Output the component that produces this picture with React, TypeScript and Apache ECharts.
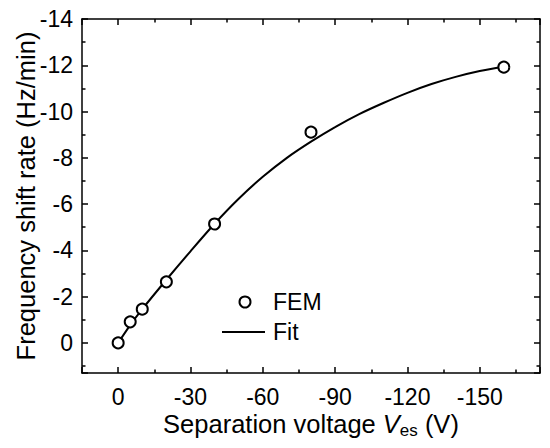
import React, { useEffect, useRef } from "react";
import * as echarts from "echarts";

const femVoltages = [0, -5, -10, -20, -40, -80, -160];
const femRates = [0, -0.91, -1.46, -2.64, -5.14, -9.11, -11.92];

const fitVoltages = [0, -5, -10, -20, -30, -40, -50, -60, -70, -80, -90, -100, -110, -120, -130, -140, -150, -160];
const fitRates = [0, -0.77, -1.46, -2.73, -3.96, -5.15, -6.23, -7.18, -8.0, -8.7, -9.33, -9.89, -10.37, -10.81, -11.19, -11.5, -11.75, -11.95];

const xRange = [-175, 15];
const yRange = [-14, 1.3];
const legendNames = ["FEM", "Fit"];

const FONT = "'Liberation Sans', Arial, sans-serif";

export default function App() {
  const ref = useRef<HTMLDivElement>(null);

  useEffect(() => {
    if (!ref.current) return;
    const chart = echarts.init(ref.current, null, { renderer: "svg" });

    const axisLine = { show: true, onZero: false, lineStyle: { color: "#000", width: 1.5 } };
    const axisTick = { show: true, inside: true, length: 6, lineStyle: { color: "#000", width: 1.5 } };
    const minorTick = { show: true, splitNumber: 2, length: 3.5, lineStyle: { color: "#000", width: 1.5 } };

    const xBase = {
      type: "value",
      min: xRange[0],
      max: xRange[1],
      splitNumber: 6,
      inverse: true,
      axisLine,
      axisTick,
      minorTick,
      splitLine: { show: false },
      minorSplitLine: { show: false },
    };
    const yBase = {
      type: "value",
      min: yRange[0],
      max: yRange[1],
      interval: 2,
      inverse: true,
      axisLine,
      axisTick,
      minorTick,
      splitLine: { show: false },
      minorSplitLine: { show: false },
    };

    const fitData = fitVoltages.map((v, i) => [v, fitRates[i]]);
    const femData = femVoltages.map((v, i) => [v, femRates[i]]);

    chart.setOption({
      animation: false,
      backgroundColor: "#fff",
      textStyle: { fontFamily: FONT, color: "#000" },
      grid: { left: 82, top: 19, right: 10, bottom: 75, containLabel: false, outerBoundsMode: "none" },
      graphic: [
        {
          type: "circle",
          shape: { cx: 245, cy: 302, r: 5.5 },
          style: { fill: "#fff", stroke: "#000", lineWidth: 2 },
          z: 10,
        },
        {
          type: "text",
          x: 273,
          y: 302,
          style: { text: legendNames[0], font: `23px ${FONT}`, fill: "#000", textVerticalAlign: "middle", verticalAlign: "middle" },
          z: 10,
        },
        {
          type: "line",
          shape: { x1: 222, y1: 332, x2: 265, y2: 332 },
          style: { stroke: "#000", lineWidth: 2 },
          z: 10,
        },
        {
          type: "text",
          x: 273,
          y: 332,
          style: { text: legendNames[1], font: `23px ${FONT}`, fill: "#000", textVerticalAlign: "middle", verticalAlign: "middle" },
          z: 10,
        },
      ],
      xAxis: [
        {
          ...xBase,
          position: "bottom",
          axisLabel: {
            show: true,
            margin: 12,
            fontSize: 23,
            color: "#000",
            fontFamily: FONT,
            formatter: (v: number) => (Math.abs(v % 30) < 1e-6 ? String(v) : ""),
          },
          name: "Separation voltage {i|V}{sub|es}{n| (V)}",
          nameLocation: "middle",
          nameGap: 36,
          nameMoveOverlap: false,
          nameTextStyle: {
            fontFamily: FONT,
            fontSize: 25.5,
            color: "#000",
            lineHeight: 30,
            rich: {
              i: { fontSize: 25.5, fontStyle: "italic", fontFamily: FONT, color: "#000", lineHeight: 30 },
              sub: { fontSize: 17, fontFamily: FONT, color: "#000", lineHeight: 17, verticalAlign: "bottom" },
              n: { fontSize: 25.5, fontFamily: FONT, color: "#000", lineHeight: 30 },
            },
          },
        },
        {
          ...xBase,
          position: "top",
          axisLabel: { show: false },
        },
      ],
      yAxis: [
        {
          ...yBase,
          position: "left",
          axisLabel: {
            show: true,
            margin: 9,
            fontSize: 23,
            color: "#000",
            fontFamily: FONT,
            formatter: (v: number) => (Math.abs(v % 2) < 1e-6 ? String(v) : ""),
          },
          name: "Frequency shift rate (Hz/min)",
          nameLocation: "middle",
          nameGap: 43,
          nameRotate: 90,
          nameMoveOverlap: false,
          nameTextStyle: { fontFamily: FONT, fontSize: 25.5, color: "#000" },
        },
        {
          ...yBase,
          position: "right",
          axisLabel: { show: false },
        },
      ],
      series: [
        {
          name: "Fit",
          type: "line",
          data: fitData,
          smooth: 0.3,
          symbol: "none",
          lineStyle: { color: "#000", width: 2 },
          itemStyle: { color: "#000" },
          z: 2,
        },
        {
          name: "FEM",
          type: "scatter",
          data: femData,
          symbol: "circle",
          symbolSize: 11,
          itemStyle: { color: "#fff", borderColor: "#000", borderWidth: 2, opacity: 1 },
          z: 3,
        },
      ],
    });

    return () => chart.dispose();
  }, []);

  return (
    <div
      ref={ref}
      style={{ position: "fixed", left: 0, top: 0, width: 550, height: 448, background: "#fff" }}
    />
  );
}
